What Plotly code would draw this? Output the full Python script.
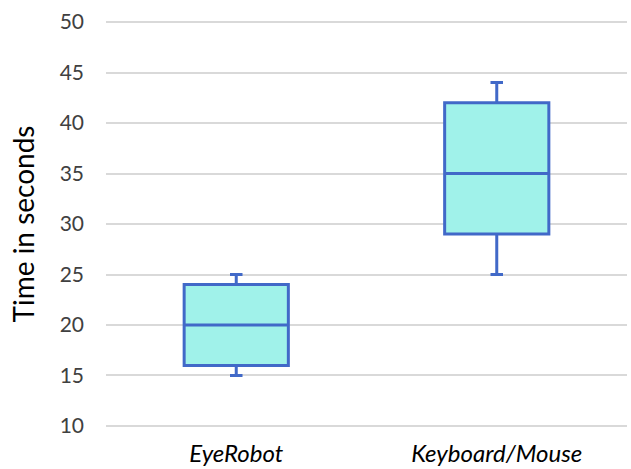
import plotly.graph_objects as go

categories = ["EyeRobot", "Keyboard/Mouse"]
mins = [15, 25]
q1s = [16, 29]
medians = [20, 35]
q3s = [24, 42]
maxs = [25, 44]
y_ticks = [10, 15, 20, 25, 30, 35, 40, 45, 50]

fig = go.Figure()
fig.add_trace(go.Box(
    x=categories,
    q1=q1s, median=medians, q3=q3s,
    lowerfence=mins, upperfence=maxs,
    fillcolor="#a0f2ea",
    line=dict(color="#4169c8", width=3),
    whiskerwidth=0.12,
    boxpoints=False,
    hoverinfo="skip",
))

fig.update_layout(
    width=631, height=469,
    margin=dict(l=106, r=4, t=21, b=42, autoexpand=False),
    paper_bgcolor="white", plot_bgcolor="white",
    showlegend=False,
    boxgap=0.6, boxgroupgap=0,
    font=dict(family="Lato, Open Sans, sans-serif", color="#404040"),
)
fig.update_yaxes(
    range=[9.9, 50.1], tickvals=y_ticks,
    showgrid=True, gridcolor="#d9d9d9", gridwidth=2,
    zeroline=False, showline=False,
    tickfont=dict(size=21, color="#404040"),
    ticklabelstandoff=21,
    automargin=False,
    title=dict(text="Time in seconds", font=dict(size=28, color="#000000"), standoff=16),
)
fig.update_xaxes(
    showgrid=False, showline=False, zeroline=False,
    automargin=False,
    tickfont=dict(size=24, color="#000000", style="italic"),
    ticklabelstandoff=10,
)

fig.write_html("out.html", config={"displayModeBar": False, "staticPlot": True},
               post_script="document.body.style.margin='0';document.body.style.overflow='hidden';")
